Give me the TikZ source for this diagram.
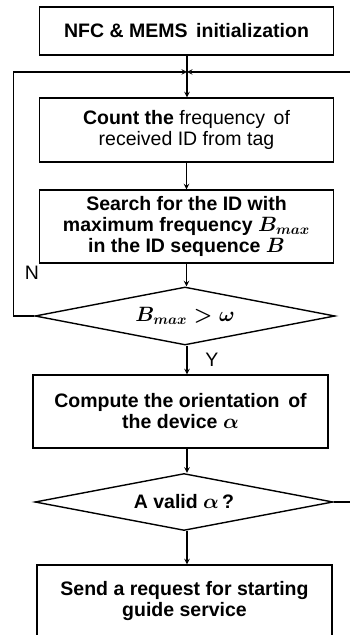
\documentclass[tikz,border=0pt]{standalone}
\usepackage{fontspec}
\setmainfont{Liberation Sans}
\usetikzlibrary{shapes.geometric}

\tikzstyle{block} = [draw, line width=1.4pt, minimum width=294pt, align=center, inner sep=0pt,
	font=\fontsize{19.5}{21}\selectfont\boldmath]
\tikzstyle{decision} = [draw, line width=1.4pt, diamond, aspect=5, inner sep=0pt,
	minimum width=300pt, minimum height=58pt, font=\fontsize{19.5}{21}\selectfont\boldmath]
\tikzstyle{arrow} = [line width=1.4pt,->,>=stealth]
\tikzstyle{line} = [line width=1.4pt]
\tikzstyle{yn} = [font=\fontsize{19.5}{21}\selectfont]

\begin{document}
\begin{tikzpicture}[x=1pt,y=1pt]
\useasboundingbox (0,0) rectangle (350,635);
\clip (0,0) rectangle (350,635);

\node [block, minimum height=48pt] (init) at (186.5,604) {\bfseries NFC \& MEMS\, initialization};
\node [block, minimum height=64pt] (count) at (186.5,505) {\bfseries Count the \mdseries frequency\, of\\ received ID from tag};
\node [block, minimum height=73pt] (search) at (186.5,408.5) {\bfseries Search for the ID with\\ \bfseries maximum frequency $B_{max}$\\ \bfseries in the ID sequence $B$};
\node [decision] (dec1) at (185,319) {$B_{max}>\omega$};
\node [block, minimum width=295pt, minimum height=73pt] (compute) at (180.5,223.5) {\bfseries Compute the orientation\, of\\ \bfseries the device $\alpha$};
\node [decision, minimum width=298pt, minimum height=57pt] (dec2) at (184,133) {\bfseries A valid $\alpha$\,?};
\node [block, minimum width=295pt, minimum height=72pt] (send) at (184.5,34) {\bfseries Send a request for starting\\ \bfseries guide service};

\coordinate (merge) at (187,563);

\node [yn] (no) at (32,362) {N};
\node [yn] (yes) at (212,275) {Y};

\draw [line] (init.south -| merge) -- (merge); % init-merge
\draw [arrow] (merge) -- (merge |- count.north); % merge-count
\draw [arrow] (count.south) -- (search.north); % count-search
\draw [arrow] (search.south) -- (search.south |- dec1.north); % search-dec1
\draw [arrow] (dec1.west) -- ++(-21,0) |- (merge); % dec1-N
\draw [arrow] (dec1.south -| merge) -- (merge |- compute.north); % dec1-Y
\draw [arrow] (merge |- compute.south) -- (merge |- dec2.north); % compute-dec2
\draw [arrow] (dec2.east) -- ++(30,0) |- (merge); % dec2-back
\draw [arrow] (merge |- dec2.south) -- (merge |- send.north); % dec2-send

\end{tikzpicture}
\end{document}
